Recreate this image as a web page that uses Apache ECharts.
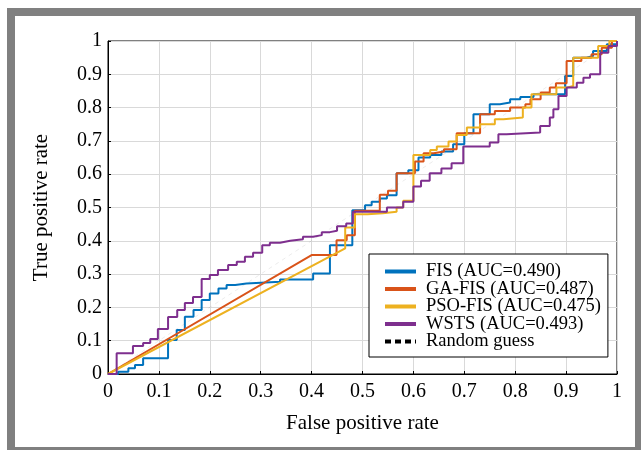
<!DOCTYPE html>
<html>
<head>
<meta charset="utf-8">
<script src="https://cdn.jsdelivr.net/npm/echarts@6/dist/echarts.min.js"></script>
<style>
  html, body { margin: 0; padding: 0; background: #fff; overflow: hidden; }
  #frame {
    position: absolute; left: 7px; top: 8px; width: 636px; height: 447px;
    box-sizing: border-box; border: 8px solid #808080;
  }
  #chart { position: absolute; left: 0; top: 0; width: 641px; height: 450px; }
</style>
</head>
<body>
<div id="frame"></div>
<div id="chart"></div>
<script>
// series names (legend)
var seriesNames = ['FIS (AUC=0.490)', 'GA-FIS (AUC=0.487)', 'PSO-FIS (AUC=0.475)', 'WSTS (AUC=0.493)', 'Random guess'];

// ROC vertices [fpr, tpr]
var fisRoc = [
  [0,0],[0.02,0],[0.02,0.007],[0.04,0.007],[0.04,0.017],[0.053,0.017],[0.053,0.027],[0.069,0.027],
  [0.069,0.047],[0.118,0.047],[0.118,0.102],[0.135,0.102],[0.135,0.132],[0.151,0.132],[0.151,0.172],
  [0.168,0.172],[0.168,0.192],[0.184,0.192],[0.184,0.222],[0.2,0.222],[0.2,0.242],[0.217,0.242],
  [0.217,0.257],[0.233,0.257],[0.233,0.267],[0.25,0.267],[0.25,0.272],[0.272,0.272],[0.272,0.277],
  [0.338,0.277],[0.338,0.284],[0.403,0.284],[0.403,0.302],[0.436,0.302],[0.436,0.387],[0.48,0.387],
  [0.48,0.492],[0.505,0.492],[0.505,0.507],[0.518,0.507],[0.518,0.517],[0.534,0.517],[0.534,0.527],
  [0.548,0.527],[0.548,0.537],[0.567,0.537],[0.567,0.603],[0.59,0.603],[0.59,0.612],[0.61,0.612],
  [0.61,0.65],[0.633,0.65],[0.633,0.658],[0.655,0.658],[0.655,0.668],[0.678,0.668],[0.678,0.69],
  [0.7,0.69],[0.7,0.723],[0.718,0.723],[0.718,0.78],[0.75,0.78],[0.75,0.81],[0.77,0.81],[0.77,0.815],
  [0.79,0.815],[0.79,0.825],[0.81,0.825],[0.81,0.832],[0.836,0.832],[0.836,0.84],[0.898,0.84],
  [0.898,0.895],[0.914,0.895],[0.914,0.95],[0.94,0.95],[0.94,0.955],[0.953,0.955],[0.953,0.97],
  [0.98,0.97],[0.98,0.99],[1,0.99],[1,1]
];
var gaFisRoc = [
  [0,0],[0.4,0.357],[0.449,0.357],[0.449,0.402],[0.469,0.402],[0.469,0.417],[0.485,0.417],[0.485,0.49],
  [0.534,0.49],[0.534,0.538],[0.55,0.538],[0.55,0.55],[0.567,0.55],[0.567,0.603],[0.603,0.603],
  [0.603,0.638],[0.62,0.638],[0.62,0.663],[0.64,0.663],[0.64,0.668],[0.66,0.668],[0.66,0.675],
  [0.685,0.675],[0.685,0.723],[0.731,0.723],[0.731,0.78],[0.76,0.78],[0.76,0.79],[0.79,0.79],
  [0.79,0.8],[0.82,0.8],[0.82,0.81],[0.83,0.81],[0.83,0.825],[0.85,0.825],[0.85,0.845],[0.868,0.845],
  [0.868,0.86],[0.88,0.86],[0.88,0.873],[0.901,0.873],[0.901,0.94],[0.93,0.94],[0.93,0.95],
  [0.95,0.95],[0.95,0.96],[0.97,0.96],[0.97,0.98],[0.99,0.98],[0.99,1],[1,1]
];
var psoFisRoc = [
  [0,0],[0.466,0.377],[0.466,0.44],[0.485,0.44],[0.485,0.48],[0.51,0.48],[0.51,0.483],[0.54,0.483],
  [0.54,0.487],[0.567,0.487],[0.567,0.5],[0.58,0.5],[0.58,0.52],[0.6,0.52],[0.6,0.658],[0.633,0.658],
  [0.633,0.673],[0.646,0.673],[0.646,0.683],[0.669,0.683],[0.669,0.698],[0.685,0.698],[0.685,0.718],
  [0.705,0.718],[0.705,0.74],[0.731,0.74],[0.731,0.75],[0.76,0.75],[0.76,0.765],[0.777,0.765],
  [0.777,0.77],[0.815,0.77],[0.815,0.8],[0.832,0.8],[0.832,0.84],[0.881,0.84],[0.881,0.86],
  [0.901,0.86],[0.901,0.865],[0.914,0.865],[0.914,0.95],[0.963,0.95],[0.963,0.985],[0.985,0.985],
  [0.985,1],[1,1]
];
var wstsRoc = [
  [0,0],[0.017,0],[0.017,0.062],[0.049,0.062],[0.049,0.084],[0.069,0.084],[0.069,0.093],[0.083,0.093],
  [0.083,0.105],[0.098,0.105],[0.098,0.135],[0.118,0.135],[0.118,0.171],[0.136,0.171],[0.136,0.192],
  [0.151,0.192],[0.151,0.213],[0.167,0.213],[0.167,0.231],[0.184,0.231],[0.184,0.285],[0.2,0.285],
  [0.2,0.297],[0.216,0.297],[0.216,0.312],[0.236,0.312],[0.236,0.327],[0.253,0.327],[0.253,0.337],
  [0.269,0.337],[0.269,0.352],[0.285,0.352],[0.285,0.364],[0.303,0.364],[0.303,0.387],[0.318,0.387],
  [0.318,0.394],[0.338,0.394],[0.338,0.4],[0.358,0.4],[0.358,0.405],[0.383,0.405],[0.383,0.412],
  [0.403,0.412],[0.403,0.417],[0.42,0.417],[0.42,0.426],[0.436,0.426],[0.436,0.43],[0.45,0.43],
  [0.45,0.444],[0.468,0.444],[0.468,0.452],[0.481,0.452],[0.481,0.487],[0.548,0.487],[0.548,0.5],
  [0.58,0.5],[0.58,0.517],[0.6,0.517],[0.6,0.563],[0.615,0.563],[0.615,0.58],[0.632,0.58],
  [0.632,0.603],[0.655,0.603],[0.655,0.617],[0.675,0.617],[0.675,0.633],[0.698,0.633],[0.698,0.683],
  [0.75,0.683],[0.75,0.695],[0.767,0.695],[0.767,0.72],[0.783,0.72],[0.783,0.725],[0.849,0.725],
  [0.849,0.745],[0.868,0.745],[0.868,0.77],[0.875,0.77],[0.875,0.795],[0.885,0.795],[0.885,0.835],
  [0.901,0.835],[0.901,0.86],[0.921,0.86],[0.921,0.875],[0.934,0.875],[0.934,0.89],[0.947,0.89],
  [0.947,0.9],[0.967,0.9],[0.967,0.965],[0.983,0.965],[0.983,0.985],[1,0.985],[1,1]
];
var randomRoc = [[0,0],[1,1]];

var colors = ['#0072BD', '#D95319', '#EDB120', '#7E2F8E', '#000000'];
var serif = '"Liberation Serif", "Times New Roman", serif';

var chart = echarts.init(document.getElementById('chart'), null, { renderer: 'canvas' });

function rocSeries(name, data, color) {
  return {
    name: name,
    type: 'line',
    data: data,
    symbol: 'none',
    silent: true,
    lineStyle: { color: color, width: 2 },
    itemStyle: { color: color }
  };
}

// legend icon: line only, no marker
function legendItem(name, extraLine) {
  return {
    name: name,
    itemStyle: { opacity: 0 },
    lineStyle: Object.assign({ width: 4 }, extraLine || {})
  };
}

var option = {
  animation: false,
  backgroundColor: 'transparent',
  grid: {
    left: 108, top: 41, width: 509, height: 333,
    show: true, borderColor: '#000', borderWidth: 1, backgroundColor: 'transparent'
  },
  xAxis: {
    type: 'value', min: 0, max: 1, interval: 0.1,
    name: 'False positive rate', nameLocation: 'middle', nameGap: 39,
    nameTextStyle: { color: '#000', fontFamily: serif, fontSize: 21 },
    axisLine: { show: true, lineStyle: { color: '#000', width: 1 } },
    axisTick: { show: true, inside: true, length: 3, lineStyle: { color: '#000' } },
    axisLabel: { color: '#000', fontFamily: serif, fontSize: 20, margin: 8 },
    splitLine: { show: true, lineStyle: { color: '#d9d9d9', width: 1 } }
  },
  yAxis: {
    type: 'value', min: 0, max: 1, interval: 0.1,
    name: 'True positive rate', nameLocation: 'middle', nameGap: 56, nameRotate: 90,
    nameTextStyle: { color: '#000', fontFamily: serif, fontSize: 21 },
    axisLine: { show: true, lineStyle: { color: '#000', width: 1 } },
    axisTick: { show: true, inside: true, length: 3, lineStyle: { color: '#000' } },
    axisLabel: { color: '#000', fontFamily: serif, fontSize: 20, margin: 6 },
    splitLine: { show: true, lineStyle: { color: '#d9d9d9', width: 1 } }
  },
  legend: {
    orient: 'vertical',
    left: 369, top: 254,
    padding: [8, 7, 6, 14],
    itemGap: -1.5,
    itemWidth: 31, itemHeight: 14,
    backgroundColor: '#fff',
    borderColor: '#000', borderWidth: 1,
    textStyle: { color: '#000', fontFamily: serif, fontSize: 18.5, padding: [0, 0, 0, 5] },
    data: [
      legendItem(seriesNames[0]),
      legendItem(seriesNames[1]),
      legendItem(seriesNames[2]),
      legendItem(seriesNames[3]),
      legendItem(seriesNames[4], { type: [6, 4], opacity: 1, color: '#000' })
    ]
  },
  series: [
    rocSeries(seriesNames[0], fisRoc, colors[0]),
    rocSeries(seriesNames[1], gaFisRoc, colors[1]),
    rocSeries(seriesNames[2], psoFisRoc, colors[2]),
    rocSeries(seriesNames[3], wstsRoc, colors[3]),
    {
      name: seriesNames[4],
      type: 'line',
      data: randomRoc,
      symbol: 'none',
      silent: true,
      z: 1,
      lineStyle: { color: '#000', width: 1, type: [4, 4], opacity: 0.08 },
      itemStyle: { color: '#000' }
    }
  ]
};

chart.setOption(option);
</script>
</body>
</html>
